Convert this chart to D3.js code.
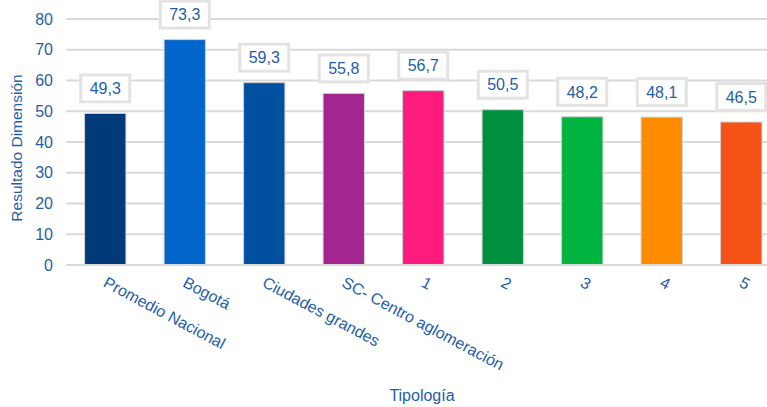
<!DOCTYPE html>
<html><head><meta charset="utf-8">
<script src="https://cdn.jsdelivr.net/npm/d3@7"></script>
<style>body{margin:0;background:#fff;} svg{display:block;font-family:"Liberation Sans",Arial,sans-serif;}</style>
</head><body><svg id="c" width="767" height="407"></svg>
<script>
const categories = ["Promedio Nacional","Bogotá","Ciudades grandes","SC- Centro aglomeración","1","2","3","4","5"];
const values = [49.3,73.3,59.3,55.8,56.7,50.5,48.2,48.1,46.5];
const barColors = ["#003a78","#0066cc","#0050a0","#a3268f","#ff1a7e","#009040","#00b43f","#ff8c00","#f55216"];
const yTicks = [0,10,20,30,40,50,60,70,80];
const yTitle = "Resultado Dimensión";
const xTitle = "Tipología";

const blue = "#1f5ea8";
const svg = d3.select("#c");
const x = d3.scaleBand().domain(categories).range([65.5,781]).paddingInner(0.48).paddingOuter(0.24);
const y = d3.scaleLinear().domain([0,80]).range([265,19]);

// gridlines
svg.append("g").selectAll("line").data(yTicks.filter(d=>d>0)).join("line")
  .attr("x1",66).attr("x2",767).attr("y1",d=>y(d)).attr("y2",d=>y(d))
  .attr("stroke","#d9d9d9").attr("stroke-width",2);

// y axis labels
const yAxis = d3.axisLeft(y).tickValues(yTicks).tickSize(0).tickPadding(0).tickFormat(d3.format("d"));
const ya = svg.append("g").attr("transform","translate(53,0)").call(yAxis);
ya.select(".domain").remove();
ya.selectAll("text").attr("fill",blue).attr("font-size",16).attr("font-family","Liberation Sans, Arial, sans-serif");

// bars
svg.append("g").selectAll("rect").data(categories).join("rect")
  .attr("x",d=>x(d)).attr("width",x.bandwidth())
  .attr("y",(d,i)=>y(values[i])).attr("height",(d,i)=>y(0)-y(values[i]))
  .attr("fill",(d,i)=>barColors[i]).attr("stroke","#d0d0d0").attr("stroke-width",1);

// x axis line
svg.append("line").attr("x1",66).attr("x2",767).attr("y1",y(0)).attr("y2",y(0))
  .attr("stroke","#d9d9d9").attr("stroke-width",2);

// x tick labels
const xAxis = d3.axisBottom(x).tickSize(0).tickPadding(0);
const xa = svg.append("g").attr("transform",`translate(0,${y(0)})`).call(xAxis);
xa.select(".domain").remove();
xa.selectAll("text").attr("fill",blue).attr("font-size",16).attr("font-family","Liberation Sans, Arial, sans-serif")
  .attr("text-anchor","start").attr("y",0).attr("dy","0")
  .attr("transform","translate(-3,21) rotate(28)");

// value labels
const fmt = v => d3.format(".1f")(v).replace(".",",");
const lg = svg.append("g").selectAll("g").data(categories).join("g")
  .attr("transform",(d,i)=>`translate(${x(d)+x.bandwidth()/2},${y(values[i])-25})`);
lg.append("rect").attr("x",-24.5).attr("y",-13.5).attr("width",49).attr("height",27)
  .attr("fill","#fff").attr("stroke","#e3e3e3").attr("stroke-width",3);
lg.append("text").attr("text-anchor","middle").attr("dy","0.36em").attr("font-size",16)
  .attr("fill",blue).text((d,i)=>fmt(values[i]));

// axis titles
svg.append("text").attr("transform","translate(22,148) rotate(-90)").attr("text-anchor","middle")
  .attr("font-size",15.5).attr("fill",blue).text(yTitle);
svg.append("text").attr("x",422).attr("y",401).attr("text-anchor","middle")
  .attr("font-size",16).attr("fill",blue).text(xTitle);
</script></body></html>
